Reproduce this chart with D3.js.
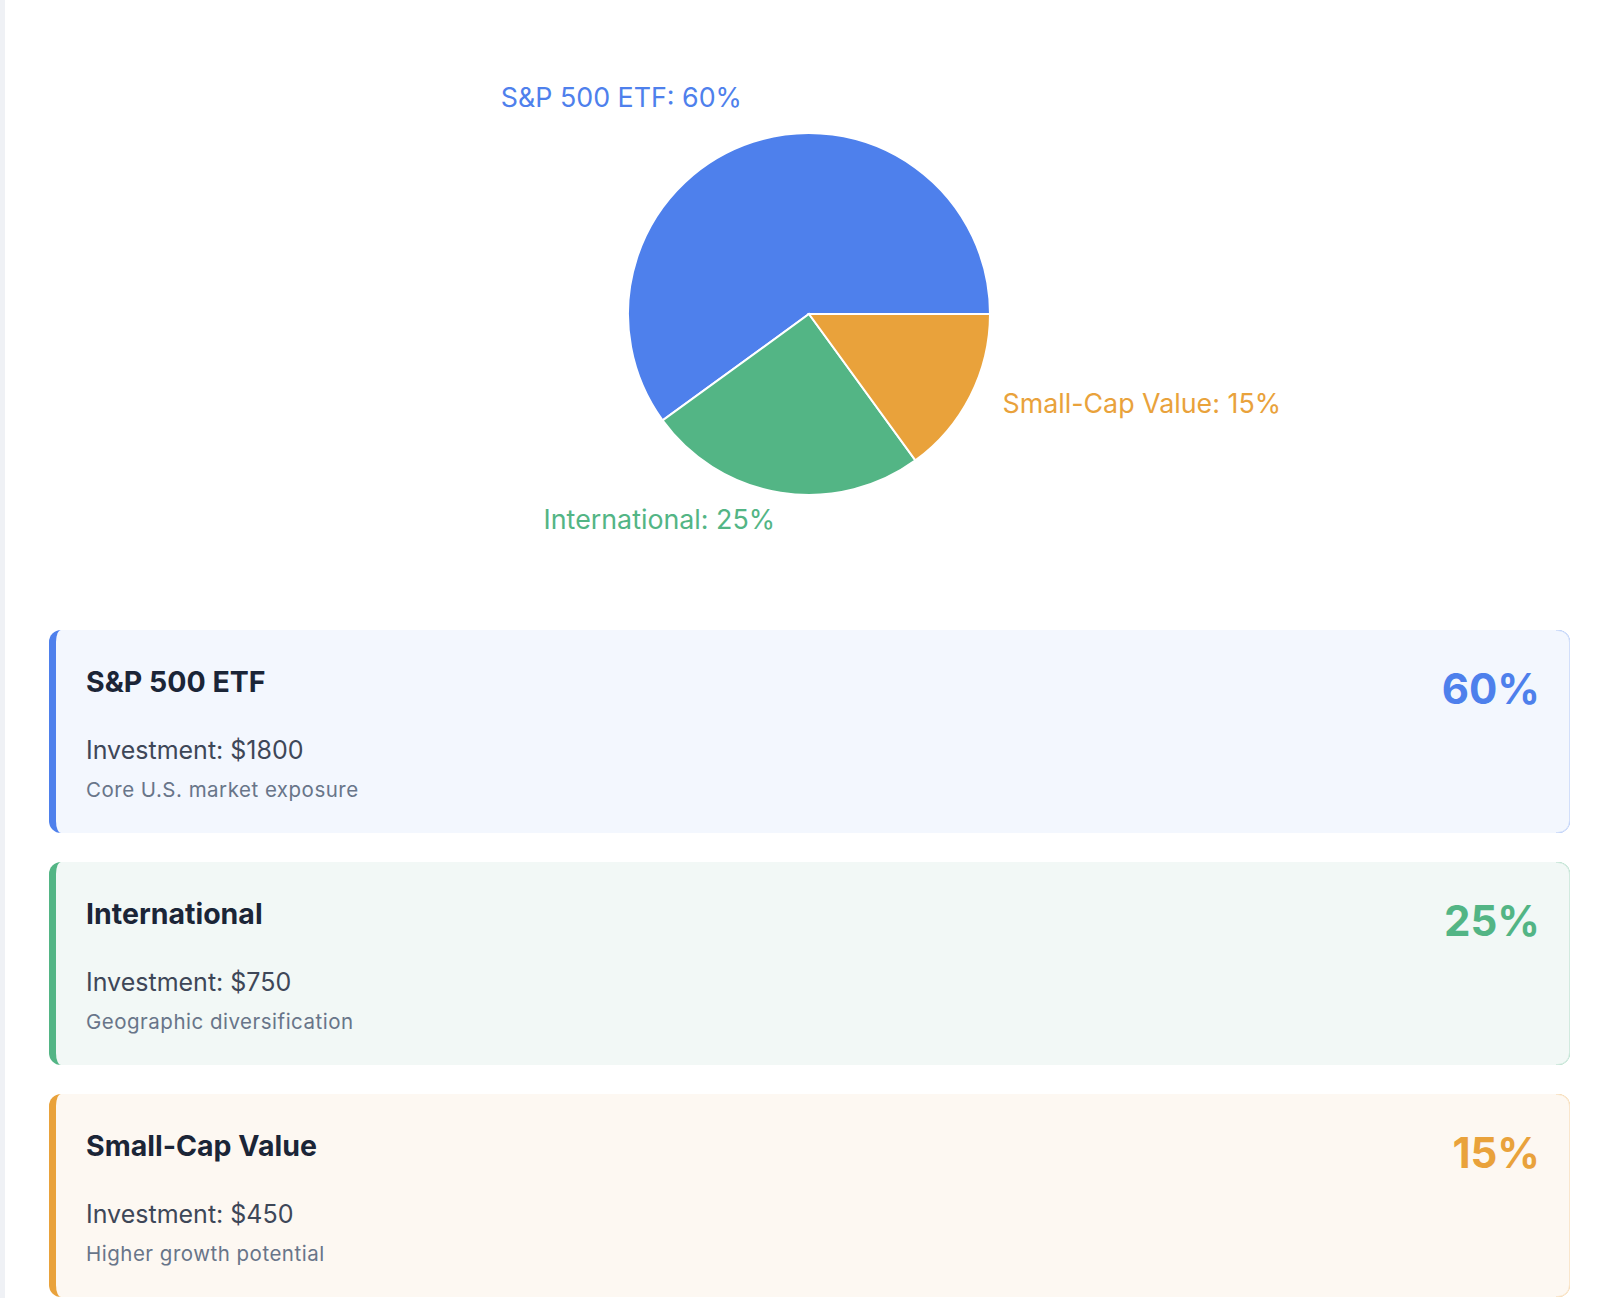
<!DOCTYPE html>
<html>
<head>
<meta charset="utf-8">
<script src="https://cdn.jsdelivr.net/npm/d3@7"></script>
<style>
  body { margin: 0; background: #fff; font-family: Inter, "Noto Sans", sans-serif; }
  #strip { position: absolute; left: 0; top: 0; width: 5px; height: 1298px; background: #eff1f5; }
</style>
</head>
<body>
<div id="strip"></div>
<div id="chart"></div>
<script>
const names = ['S&P 500 ETF', 'International', 'Small-Cap Value']
const shares = [60, 25, 15]
const amounts = [1800, 750, 450]
const notes = ['Core U.S. market exposure', 'Geographic diversification', 'Higher growth potential']
const colors = ['#4e80ec', '#53b585', '#e9a23b']
const tints = ['#f3f7fe', '#f2f8f6', '#fdf8f2']

const WIDTH = 1600
const HEIGHT = 1298
const cx = 809
const cy = 314
const radius = 181

const svg = d3.select('#chart').append('svg')
  .attr('width', WIDTH)
  .attr('height', HEIGHT)
  .style('display', 'block')

const items = names.map((name, i) => ({
  name, share: shares[i], amount: amounts[i], note: notes[i], color: colors[i], tint: tints[i]
}))

// pie, drawn counter-clockwise from 3 o'clock
const pie = d3.pie()
  .sort(null)
  .value(d => d.share)
  .startAngle(Math.PI / 2)
  .endAngle(Math.PI / 2 - 2 * Math.PI)

const arc = d3.arc().innerRadius(0).outerRadius(radius)
const labelArc = d3.arc().innerRadius(radius * 1.2).outerRadius(radius * 1.2)

const pg = svg.append('g').attr('transform', `translate(${cx}, ${cy})`)
const slices = pie(items)

pg.selectAll('path')
  .data(slices)
  .join('path')
  .attr('d', arc)
  .attr('fill', d => d.data.color)
  .attr('stroke', '#fff')
  .attr('stroke-width', 2)

pg.selectAll('text')
  .data(slices)
  .join('text')
  .attr('x', d => labelArc.centroid(d)[0])
  .attr('y', d => labelArc.centroid(d)[1])
  .attr('text-anchor', d => labelArc.centroid(d)[0] < 0 ? 'end' : 'start')
  .style('fill', d => d.data.color)
  .style('font-size', '26.8px')
  .text(d => `${d.data.name}: ${d.data.share}%`)

// cards
const card = { x: 49, y: 630, w: 1521, h: 203, gap: 29, r: 12, edge: 7 }

function innerPath(x, y, w, h, r, e) {
  return `M${x + e + (r - e)},${y} H${x + w - r} A${r},${r} 0 0 1 ${x + w},${y + r}` +
    ` V${y + h - r} A${r},${r} 0 0 1 ${x + w - r},${y + h} H${x + r}` +
    ` A${r - e},${r} 0 0 1 ${x + e},${y + h - r} V${y + r} A${r - e},${r} 0 0 1 ${x + r},${y} Z`
}

const cg = svg.append('g')
  .selectAll('g')
  .data(items)
  .join('g')
  .attr('transform', (d, i) => `translate(0, ${card.y + i * (card.h + card.gap)})`)

cg.append('rect')
  .attr('x', card.x)
  .attr('y', 0)
  .attr('width', card.w)
  .attr('height', card.h)
  .attr('rx', card.r)
  .attr('fill', d => d.color)

cg.append('path')
  .attr('d', innerPath(card.x, 0, card.w, card.h, card.r, card.edge))
  .attr('fill', d => d.tint)

// faint outline round the right corners
cg.append('path')
  .attr('d', `M${card.x + card.w - card.r - 2},0.5 H${card.x + card.w - card.r} A${card.r - 0.5},${card.r - 0.5} 0 0 1 ${card.x + card.w - 0.5},${card.r}` +
    ` V${card.h - card.r} A${card.r - 0.5},${card.r - 0.5} 0 0 1 ${card.x + card.w - card.r},${card.h - 0.5} H${card.x + card.w - card.r - 2}`)
  .attr('fill', 'none')
  .attr('stroke', d => d.color)
  .attr('stroke-opacity', 0.2)

cg.append('text')
  .attr('x', 86)
  .attr('y', 62)
  .style('fill', '#1b2537')
  .style('font-size', '28.5px')
  .style('font-weight', 'bold')
  .text(d => d.name)

cg.append('text')
  .attr('x', 86)
  .attr('y', 129)
  .style('fill', '#3e4758')
  .style('font-size', '25px')
  .text(d => `Investment: $${d.amount}`)

cg.append('text')
  .attr('x', 86)
  .attr('y', 167)
  .style('fill', '#687589')
  .style('font-size', '20.5px')
  .style('letter-spacing', '0.5px')
  .text(d => d.note)

cg.append('text')
  .attr('x', 1540)
  .attr('y', 74)
  .attr('text-anchor', 'end')
  .style('fill', d => d.color)
  .style('font-size', '42px')
  .style('font-weight', 'bold')
  .text(d => `${d.share}%`)
</script>
</body>
</html>
